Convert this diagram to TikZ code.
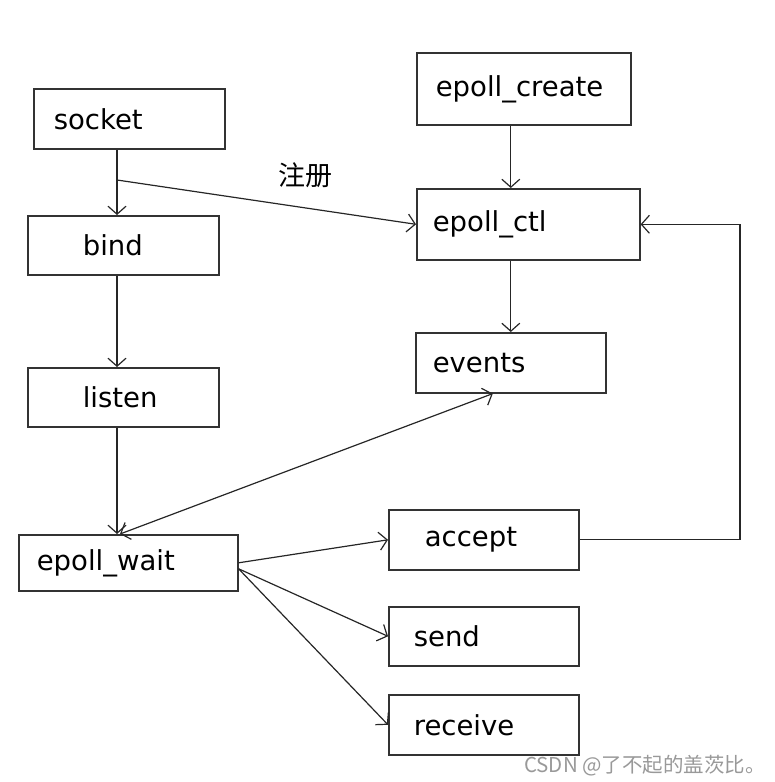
\documentclass[tikz,border=0pt]{standalone}
\usepackage{fontspec}
\setmainfont{DejaVu Sans}
\newfontfamily\cjk{Noto Sans CJK SC}
\usepackage{tikz}
\usetikzlibrary{arrows.meta, positioning}

\begin{document}
\begin{tikzpicture}[x=1pt, y=-1pt, >={Straight Barb[length=8pt,width=18pt]},
    blk/.style={draw=black!80, line width=1.6pt, anchor=north west, align=left,
        inner ysep=0pt, font=\fontsize{27.5}{30}\selectfont},
    arr/.style={draw=black!85, line width=1.2pt, ->}]

    \useasboundingbox (0,0) rectangle (774,782);

    % Blocchi
    \node[blk, text width=151pt, inner xsep=20pt, minimum height=60pt] (socket) at (33,88) {socket};
    \node[blk, text width=81pt, inner xsep=55pt, minimum height=59pt] (bind) at (27,215) {bind};
    \node[blk, text width=81pt, inner xsep=55pt, minimum height=59pt] (listen) at (27,367) {listen};
    \node[blk, text width=183pt, inner xsep=18pt, minimum height=56pt] (wait) at (18,534) {epoll\_wait};
    \node[blk, text width=176pt, inner xsep=19pt, minimum height=72pt] (create) at (416,52) {epoll\_create};
    \node[blk, text width=191pt, inner xsep=16pt, minimum height=71pt] (ctl) at (416,188) {epoll\_ctl};
    \node[blk, text width=156pt, inner xsep=17pt, minimum height=60pt] (events) at (415,332) {events};
    \node[blk, text width=118pt, inner xsep=36pt, minimum height=60pt] (accept) at (388,509) {accept};
    \node[blk, text width=140pt, inner xsep=25pt, minimum height=59pt] (send) at (388,606) {send};
    \node[blk, text width=140pt, inner xsep=25pt, minimum height=60pt] (receive) at (388,694) {receive};

    \coordinate (spine) at (117,0);
    \coordinate (fork) at (117,180);
    \coordinate (ret) at (740,380);

    % Frecce
    \draw[arr] (socket.south -| spine) -- (bind.north -| spine);
    \draw[arr] (bind.south -| spine) -- (listen.north -| spine);
    \draw[arr] (listen.south -| spine) -- (wait.north -| spine);
    \draw[arr] (fork) -- (ctl.west);
    \node[font=\cjk\fontsize{27}{30}\selectfont] (reg) at (305,175) {注册};

    \draw[arr] (create.south -| events.north) -- (ctl.north -| events.north);
    \draw[arr] (ctl.south -| events.north) -- (events.north);
    \draw[arr, <->] ([xshift=3pt]wait.north -| spine) -- ([xshift=-18pt]events.south);

    \draw[arr] (wait.east) -- (accept.west);
    \draw[arr] ([yshift=-6pt]wait.east) -- (send.west);
    \draw[arr] ([yshift=-6pt]wait.east) -- (receive.west);
    \draw[arr] (accept.east) -| (ret) |- (ctl.east);

    \node[text=black!40, font=\cjk\fontsize{20.5}{22}\selectfont] (wm) at (645,766) {CSDN @了不起的盖茨比。};
\end{tikzpicture}
\end{document}
